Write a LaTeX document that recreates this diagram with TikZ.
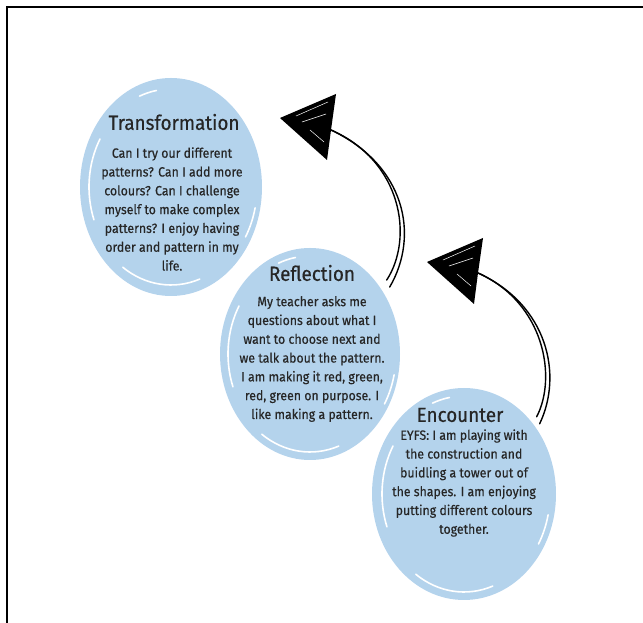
\documentclass[tikz,border=0pt]{standalone}
\usepackage{fontspec}
\setmainfont[FakeStretch=0.92, FakeBold=0.4]{Fira Sans}
\usetikzlibrary{shapes.geometric}

\definecolor{blobblue}{HTML}{B4D3EC}
\definecolor{inkgray}{HTML}{262626}

\tikzset{
  blob/.style={ellipse, fill=blobblue, inner sep=0pt},
  streak/.style={white, line width=1.6pt, line cap=round},
  heading/.style={font=\fontsize{20.5}{24}\selectfont, text=inkgray},
  bodytext/.style={font=\fontsize{13.4}{18.8}\selectfont, text=inkgray, align=center},
  sketch/.style={line width=1.4pt, line cap=round},
  scribble/.style={white, line width=0.5pt, line cap=round},
}

\begin{document}
\begin{tikzpicture}[x=1pt, y=1pt]
  \useasboundingbox (0,0) rectangle (643,623);
  % frame
  \draw[line width=2.4pt] (7,0) -- (7,616) -- (643,616);

  % blobs
  \node (transBlob) [blob, minimum width=182pt, minimum height=218pt] at (171,436) {};
  \node (reflBlob) [blob, minimum width=180pt, minimum height=212pt] at (310,269) {};
  \node (encBlob) [blob, minimum width=184pt, minimum height=212pt] at (464,129) {};

  % brush streaks
  \foreach \b in {transBlob, reflBlob, encBlob} {
    \draw[streak] ([shift={(150:82 and 96)}]\b.center) arc[start angle=150, end angle=200, x radius=82, y radius=96];
    \draw[streak] ([shift={(235:84 and 98)}]\b.center) arc[start angle=235, end angle=290, x radius=84, y radius=98];
    \draw[streak] ([shift={(100:84 and 98)}]\b.center) arc[start angle=100, end angle=112, x radius=84, y radius=98];
    \draw[streak] ([shift={(330:86 and 100)}]\b.center) arc[start angle=330, end angle=348, x radius=86, y radius=100];
  }

  % texts
  \node (trans) [heading] at (174,501) {Transformation};
  \node (transText) [bodytext] at (172,414) {Can I try our different\\patterns? Can I add more\\colours? Can I challenge\\myself to make complex\\patterns? I enjoy having\\order and pattern in my\\life.};

  \node (refl) [heading] at (312,350) {Reflection};
  \node (reflText) [bodytext] at (312,264) {My teacher asks me\\questions about what I\\want to choose next and\\we talk about the pattern.\\I am making it red, green,\\red, green on purpose. I\\like making a pattern.};

  \node (enc) [heading] at (460,208) {Encounter};
  \node (encText) [bodytext] at (464,140) {EYFS: I am playing with\\the construction and\\buidling a tower out of\\the shapes. I am enjoying\\putting different colours\\together.};

  % arrows
  \coordinate (tip1) at (280,505);
  \coordinate (notch1) at (331,493);
  \coordinate (tip2) at (427,361);
  \coordinate (notch2) at (478,350);

  \draw[sketch] ([shift={(6,8)}]reflBlob.43) .. controls (414,385) and (402,462) .. (notch1);
  \draw[sketch] ([shift={(9,1)}]reflBlob.43) .. controls (420,388) and (405,458) .. (notch1);
  \draw[sketch] ([shift={(2,9)}]encBlob.44) .. controls (557,245) and (545,320) .. (notch2);
  \draw[sketch] ([shift={(5,2)}]encBlob.44) .. controls (563,248) and (548,318) .. (notch2);

  \foreach \h in {1,2} {
    \fill (tip\h) -- ([shift={(56,24)}]tip\h) -- (notch\h) -- ([shift={(47,-42)}]tip\h) -- cycle;
    \draw[scribble] ([shift={(16,2)}]tip\h) -- ([shift={(48,16)}]tip\h);
    \draw[scribble] ([shift={(22,-4)}]tip\h) -- ([shift={(46,4)}]tip\h);
    \draw[scribble] ([shift={(30,-12)}]tip\h) -- ([shift={(44,-24)}]tip\h);
  }
\end{tikzpicture}
\end{document}
